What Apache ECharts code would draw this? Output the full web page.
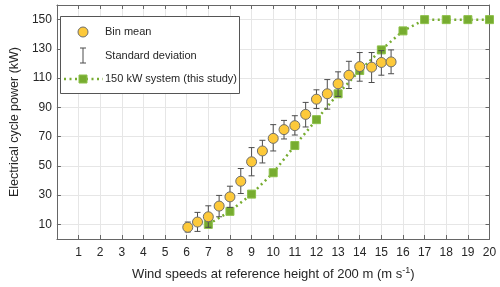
<!DOCTYPE html>
<html>
<head>
<meta charset="utf-8">
<script src="https://cdn.jsdelivr.net/npm/echarts@6/dist/echarts.min.js"></script>
<style>html,body{margin:0;padding:0;background:#fff}#c{width:500px;height:287px}</style>
</head>
<body>
<div id="c"></div>
<script>
// Bin means with standard deviation
var binX  = [6.05, 6.5, 7, 7.5, 8, 8.5, 9, 9.5, 10, 10.5, 11, 11.5, 12, 12.5, 13, 13.5, 14, 14.55, 15, 15.45];
var binMean = [8, 11.6, 15.2, 22.5, 28.8, 39.5, 52.8, 60.2, 68.8, 74.8, 77.5, 85.2, 95.6, 99.3, 106.1, 112, 117.9, 117.5, 120.7, 121.1];
var stdHigh = [11.6, 18.2, 22.7, 29.8, 36.1, 48.2, 62.5, 67.5, 78.2, 81.1, 84.3, 93.4, 102, 109, 114.3, 121.5, 127.5, 127.5, 128.8, 129.3];
var stdLow  = [4.8, 5.2, 8, 15.2, 21.6, 31.1, 43.2, 52, 60.2, 68.4, 71.1, 76.6, 89.2, 88.8, 97.5, 102.9, 107.9, 107, 112, 113];
// 150 kW system (this study)
var sysX = [7, 8, 9, 10, 11, 12, 13, 14, 15, 16, 17, 18, 19, 20];
var sysPower = [10, 18.9, 30.7, 45.3, 63.9, 81.6, 99.3, 115.2, 129.3, 142.3, 150, 150, 150, 150];
// Axis ticks
var yTicks = [10, 30, 50, 70, 90, 110, 130, 150];
var xTicks = [1,2,3,4,5,6,7,8,9,10,11,12,13,14,15,16,17,18,19,20];

var FONT = 'Liberation Sans';
var TXT = '#262626';
var AX = '#666666';
var GRID = '#e6e6e6';
var GREEN = '#77ac30';
var YELLOW = '#fdc93a';

var meanData = binX.map(function (x, i) { return [x, binMean[i]]; });
var errData = binX.map(function (x, i) { return [x, stdLow[i], stdHigh[i]]; });
var sysData = sysX.map(function (x, i) { return [x, sysPower[i]]; });

var chart = echarts.init(document.getElementById('c'), null, {renderer: 'canvas'});

function baseX(show) {
  return {
    type: 'value', min: 0, max: 20, interval: 1,
    axisLine: {show: true, onZero: false, lineStyle: {color: AX, width: 1}},
    axisTick: {show: true, inside: true, length: 4, lineStyle: {color: AX}, customValues: xTicks},
    axisLabel: {show: show, color: TXT, fontFamily: FONT, fontSize: 12, margin: 8, customValues: xTicks},
    splitLine: {show: show, lineStyle: {color: GRID, width: 1}}
  };
}
function baseY(show) {
  return {
    type: 'value', min: 0, max: 160, interval: 10,
    axisLine: {show: true, onZero: false, lineStyle: {color: AX, width: 1}},
    axisTick: {show: true, inside: true, length: 4, lineStyle: {color: AX}, customValues: yTicks},
    axisLabel: {show: show, color: TXT, fontFamily: FONT, fontSize: 12, margin: 5, customValues: yTicks},
    splitLine: {show: false}
  };
}

var xMain = baseX(true);
xMain.position = 'bottom';
xMain.name = '{a|Wind speeds at reference height of 200 m (m s}{s|-1}{a|)}';
xMain.nameLocation = 'middle';
xMain.nameGap = 27;
xMain.nameTextStyle = {
  rich: {
    a: {fontFamily: FONT, fontSize: 13, color: TXT},
    s: {fontFamily: FONT, fontSize: 9, color: TXT, verticalAlign: 'top', padding: [0, 0, 7, 0]}
  }
};
var xTop = baseX(false);
xTop.position = 'top';

var yMain = baseY(true);
yMain.position = 'left';
yMain.name = 'Electrical cycle power (kW)';
yMain.nameLocation = 'middle';
yMain.nameGap = 35;
yMain.nameTextStyle = {fontFamily: FONT, fontSize: 12.5, color: TXT};
var yRight = baseY(false);
yRight.position = 'right';

// light grid lines at the tick values
var yGrid = {
  type: 'value', min: 0, max: 160, interval: 10, position: 'left', show: true,
  axisLine: {show: false}, axisTick: {show: false}, axisLabel: {show: false},
  splitLine: {show: true, lineStyle: {color: ['rgba(0,0,0,0)', GRID], width: 1}}
};

var option = {
  backgroundColor: '#ffffff',
  animation: false,
  grid: {left: 47, right: 10.5, top: 5, bottom: 48, containLabel: false},
  xAxis: [xMain, xTop],
  yAxis: [yMain, yRight, yGrid],
  series: [
    {
      type: 'line', name: '150 kW system (this study)', data: sysData,
      xAxisIndex: 0, yAxisIndex: 0,
      symbol: 'rect', symbolSize: 8,
      lineStyle: {color: GREEN, width: 2.5, type: [2, 3.5]},
      itemStyle: {color: GREEN, borderColor: '#8dc04a', borderWidth: 1},
      z: 3
    },
    {
      type: 'custom', name: 'Standard deviation', data: errData,
      xAxisIndex: 0, yAxisIndex: 0,
      encode: {x: 0, y: [1, 2]},
      renderItem: function (params, api) {
        var x = api.value(0);
        var lo = api.coord([x, api.value(1)]);
        var hi = api.coord([x, api.value(2)]);
        var cap = 3;
        var st = {stroke: '#4d4d4d', lineWidth: 1};
        return {
          type: 'group',
          children: [
            {type: 'line', shape: {x1: lo[0], y1: lo[1], x2: hi[0], y2: hi[1]}, style: st},
            {type: 'line', shape: {x1: lo[0] - cap, y1: lo[1], x2: lo[0] + cap, y2: lo[1]}, style: st},
            {type: 'line', shape: {x1: hi[0] - cap, y1: hi[1], x2: hi[0] + cap, y2: hi[1]}, style: st}
          ]
        };
      },
      z: 4
    },
    {
      type: 'scatter', name: 'Bin mean', data: meanData,
      xAxisIndex: 0, yAxisIndex: 0,
      symbol: 'circle', symbolSize: 10,
      itemStyle: {color: YELLOW, borderColor: '#6e6e6e', borderWidth: 1, opacity: 1},
      z: 5
    }
  ],
  graphic: [
    {type: 'rect', left: 60, top: 16, z: 100, shape: {width: 179, height: 77},
     style: {fill: '#ffffff', stroke: '#555555', lineWidth: 1}},
    {type: 'circle', z: 101, shape: {cx: 83, cy: 32, r: 5},
     style: {fill: YELLOW, stroke: '#6e6e6e', lineWidth: 1}},
    {type: 'line', z: 101, shape: {x1: 83, y1: 48, x2: 83, y2: 63}, style: {stroke: '#4d4d4d', lineWidth: 1}},
    {type: 'line', z: 101, shape: {x1: 80, y1: 48, x2: 86, y2: 48}, style: {stroke: '#4d4d4d', lineWidth: 1}},
    {type: 'line', z: 101, shape: {x1: 80, y1: 63, x2: 86, y2: 63}, style: {stroke: '#4d4d4d', lineWidth: 1}},
    {type: 'line', z: 101, shape: {x1: 64, y1: 79, x2: 103, y2: 79},
     style: {stroke: GREEN, lineWidth: 2.5, lineDash: [2, 3.5]}},
    {type: 'rect', z: 102, shape: {x: 79, y: 75, width: 8, height: 8},
     style: {fill: GREEN, stroke: '#8dc04a', lineWidth: 1}},
    {type: 'text', z: 102, left: 105, top: 26,
     style: {text: 'Bin mean', fontFamily: FONT, fontSize: 11, fill: TXT}},
    {type: 'text', z: 102, left: 105, top: 50,
     style: {text: 'Standard deviation', fontFamily: FONT, fontSize: 11, fill: TXT}},
    {type: 'text', z: 102, left: 105, top: 73,
     style: {text: '150 kW system (this study)', fontFamily: FONT, fontSize: 11, fill: TXT}}
  ]
};
chart.setOption(option);
</script>
</body>
</html>
